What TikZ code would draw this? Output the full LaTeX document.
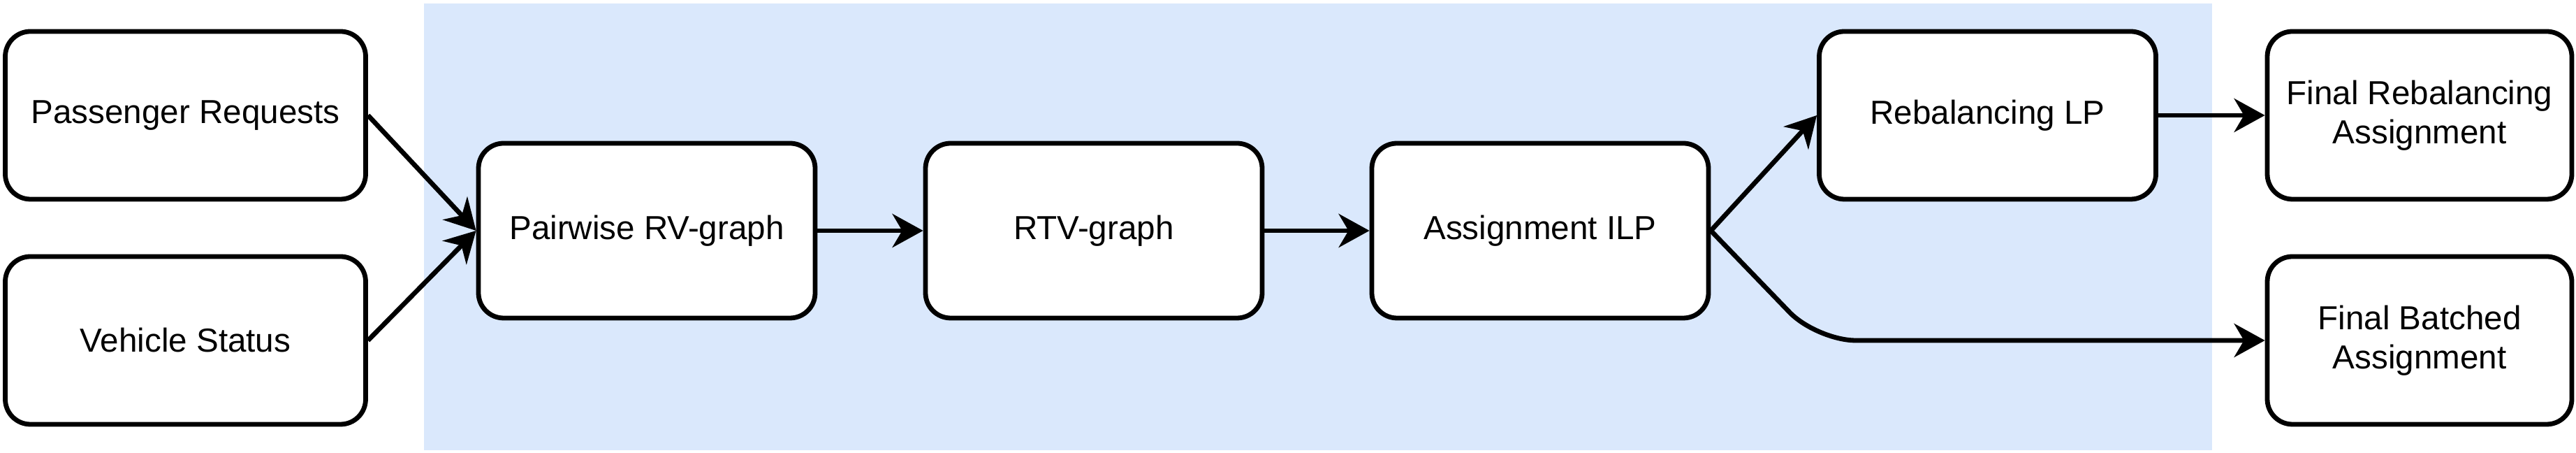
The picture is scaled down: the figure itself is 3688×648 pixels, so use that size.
\documentclass[tikz,border=0pt]{standalone}
\usepackage{fontspec}
\setmainfont{Liberation Sans}
\usetikzlibrary{arrows.meta}
\definecolor{bandblue}{HTML}{DAE8FC}
\begin{document}
\begin{tikzpicture}[x=0.25pt,y=-0.25pt,
  box/.style={draw=black, line width=1.7pt, fill=white, rounded corners=9pt,
    align=center, font=\fontsize{11.9}{14}\selectfont, inner sep=0pt},
  conn/.style={line width=1.7pt, -{Stealth[length=11pt,width=12pt,inset=3.5pt]}}]
\useasboundingbox (0,0) rectangle (3688,648);
\fill[bandblue] (607,5) rectangle (3167,644);
\node[box, minimum width=129pt, minimum height=60pt] (pr) at (265.5,165) {Passenger Requests};
\node[box, minimum width=129pt, minimum height=60pt] (vs) at (265.5,487) {Vehicle Status};
\node[box, minimum width=120.5pt, minimum height=62.5pt] (rv) at (926,330) {Pairwise RV-graph};
\node[box, minimum width=120.5pt, minimum height=62.5pt] (rtv) at (1566,330) {RTV-graph};
\node[box, minimum width=120.5pt, minimum height=62.5pt] (ilp) at (2205,330) {Assignment ILP};
\node[box, minimum width=120.5pt, minimum height=60pt] (lp) at (2845.5,165) {Rebalancing LP};
\node[box, minimum width=109pt, minimum height=60pt] (fr) at (3464,165) {Final Rebalancing\\Assignment};
\node[box, minimum width=109pt, minimum height=60pt] (fb) at (3464,487) {Final Batched\\Assignment};
\draw[conn] (pr.east) -- (rv.west);
\draw[conn] (vs.east) -- (rv.west);
\draw[conn] (rv.east) -- (rtv.west);
\draw[conn] (rtv.east) -- (ilp.west);
\draw[conn] (ilp.east) -- (lp.west);
\draw[conn] (lp.east) -- (fr.west);
\coordinate (bend) at (2601,487);
\draw[conn, rounded corners=14pt] (ilp.east) -- (bend) -- (fb.west);
\end{tikzpicture}
\end{document}
